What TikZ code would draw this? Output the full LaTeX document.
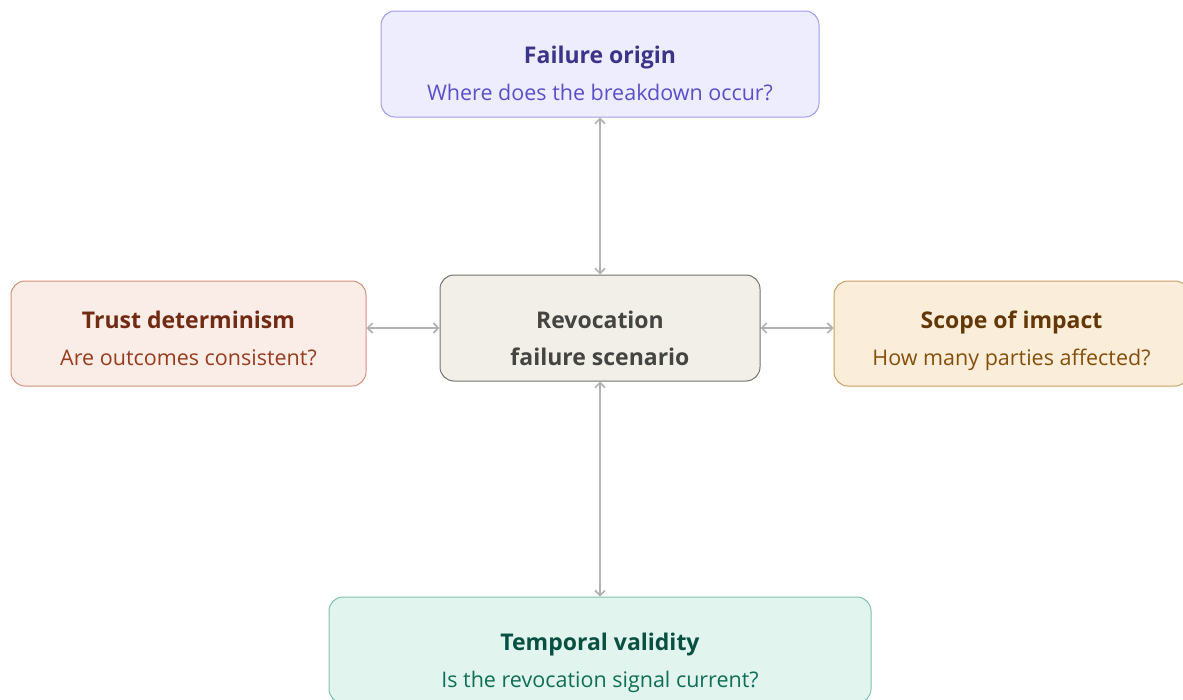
\documentclass[tikz,border=0pt]{standalone}
\usepackage{fontspec}
\setmainfont{Open Sans}
\usetikzlibrary{arrows.meta,positioning}

\definecolor{originfill}{HTML}{EEEDFE}
\definecolor{origindraw}{HTML}{A29BE6}
\definecolor{origintitle}{HTML}{3C3489}
\definecolor{origintext}{HTML}{5B4FC9}
\definecolor{corefill}{HTML}{F1EFE8}
\definecolor{coredraw}{HTML}{73726C}
\definecolor{coretext}{HTML}{444441}
\definecolor{trustfill}{HTML}{FAECE7}
\definecolor{trustdraw}{HTML}{D4917A}
\definecolor{trusttitle}{HTML}{712B13}
\definecolor{trusttext}{HTML}{993C1D}
\definecolor{scopefill}{HTML}{FAEEDA}
\definecolor{scopedraw}{HTML}{C9A064}
\definecolor{scopetitle}{HTML}{633806}
\definecolor{scopetext}{HTML}{854F0B}
\definecolor{timefill}{HTML}{E1F5EE}
\definecolor{timedraw}{HTML}{7FC4AA}
\definecolor{timetitle}{HTML}{085041}
\definecolor{timetext}{HTML}{0F6E56}
\definecolor{linkgray}{HTML}{B2B2B2}

\begin{document}
\begin{tikzpicture}[
  x=1pt, y=-1pt,
  >={Straight Barb[length=5pt,width=10pt]},
  box/.style  = {draw, line width=1pt, rounded corners=14pt, inner sep=0pt},
  head/.style = {anchor=base, inner sep=0pt, font=\fontsize{23}{28}\selectfont\bfseries},
  ask/.style  = {anchor=base, inner sep=0pt, font=\fontsize{21.5}{26}\selectfont},
  link/.style = {<->, draw=linkgray, line width=1.6pt}
]
\useasboundingbox (0,0) rectangle (1183,699);

% Boxes
\node[box, fill=corefill, draw=coredraw, minimum width=320pt, minimum height=106pt] (core) at (600,328) {};
\node[box, fill=originfill, draw=origindraw, minimum width=438pt, minimum height=106pt] (origin) at (600,64) {};
\node[box, fill=trustfill, draw=trustdraw, minimum width=355pt, minimum height=105pt] (trust) at (188.5,333.5) {};
\node[box, fill=scopefill, draw=scopedraw, minimum width=355pt, minimum height=105pt] (scope) at (1011.5,333.5) {};
\node[box, fill=timefill, draw=timedraw, minimum width=542pt, minimum height=106pt] (time) at (600,650) {};

% Texts
\node[head, text=coretext] (core-head) at ([yshift=-54pt]core.north) {Revocation};
\node[head, text=coretext] (core-ask) at ([yshift=-91pt]core.north) {failure scenario};
\node[head, text=origintitle] (origin-head) at ([yshift=-53pt]origin.north) {Failure origin};
\node[ask, text=origintext] (origin-ask) at ([yshift=-90pt]origin.north) {Where does the breakdown occur?};
\node[head, text=trusttitle] (trust-head) at ([yshift=-48pt]trust.north) {Trust determinism};
\node[ask, text=trusttext] (trust-ask) at ([yshift=-85pt]trust.north) {Are outcomes consistent?};
\node[head, text=scopetitle] (scope-head) at ([yshift=-48pt]scope.north) {Scope of impact};
\node[ask, text=scopetext] (scope-ask) at ([yshift=-85pt]scope.north) {How many parties affected?};
\node[head, text=timetitle] (time-head) at ([yshift=-54pt]time.north) {Temporal validity};
\node[ask, text=timetext] (time-ask) at ([yshift=-91pt]time.north) {Is the revocation signal current?};

% Connections
\draw[link] (origin) -- (core);
\draw[link] (core) -- (time);
\draw[link] (trust.east |- core) -- (core.west);
\draw[link] (core.east) -- (scope.west |- core);

\end{tikzpicture}
\end{document}
